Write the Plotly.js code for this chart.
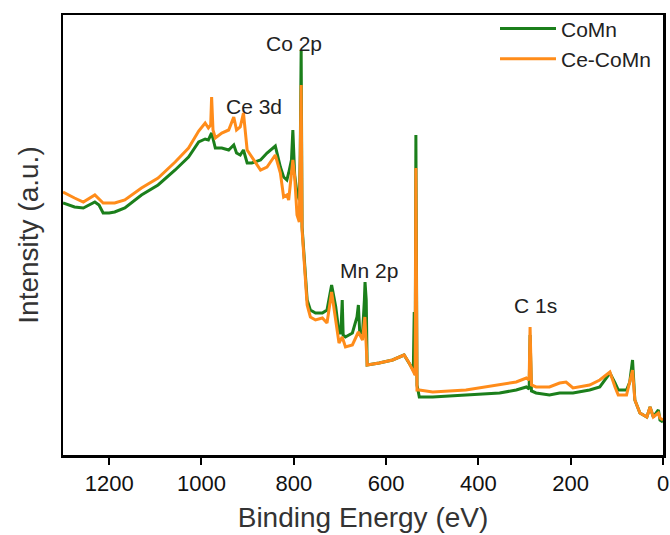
<!DOCTYPE html>
<html>
<head>
<meta charset="utf-8">
<script src="https://cdn.plot.ly/plotly-3.0.1.min.js"></script>
<style>html,body{margin:0;padding:0;background:#fff;}#chart{width:670px;height:535px;}</style>
</head>
<body>
<div id="chart"></div>
<script>
// Binding energy (eV) and intensity (a.u.)
const energyCoMn = [1300,1289,1275,1256,1231,1222,1213,1200,1188,1166,1130,1094,1057,1028,1006,992,985,978,970,956,941,930,924,916,909,901,891,872,858,840,829,822,815,811,805,802,798,793,788,786,784,782,778,775,771,764,753,738,728,718,709,702,698,695,693,688,673,663,660,657,651,647,645.6,643,641,615,586,561,550,541,539,537,535.4,533,528,499,427,354,318,296,290,288,285,275,246,224,195,159,137,115,104,97,79,72,66,61,50,35,28,21,10,6.5,0];
const intensityCoMn = [252,250,248,247,253,250,242,242,243,247,260,270,285,298,313,316,315,322,307,307,305,310,302,300,305,292,292,295,302,309,288,278,275,282,295,325,280,262,255,300,405,228,202,182,155,145,142,142,145,170,148,122,122,155,120,118,122,138,150,122,122,155,173,155,90,92,95,100,92,85,143,80,320,70,58,58,60,62,65,68,66,120,64,62,60,62,62,65,68,82,72,65,65,73,95,55,42,38,48,38,45,35,33];

const energyCeCoMn = [1300,1289,1275,1256,1231,1213,1188,1166,1130,1094,1057,1028,1006,992,985,980,978,975,970,956,941,930,924,916,909,901,891,872,858,840,829,822,815,811,802,798,793,788,786,784,782,778,775,771,764,753,738,728,718,709,702,695,688,673,660,651,646,641,615,586,561,550,541,537,535.4,533,528,499,427,354,318,296,290,288,285,275,246,224,210,195,159,137,115,104,97,79,72,66,61,50,35,28,21,10,6.5,0];
const intensityCeCoMn = [263,260,257,253,260,252,252,255,267,277,293,307,324,332,327,330,358,325,317,322,325,338,325,328,342,305,298,285,288,300,282,258,260,255,295,278,240,233,300,370,225,200,180,150,138,135,137,132,163,135,112,118,108,110,123,115,138,90,92,95,100,92,83,80,287,65,65,63,65,70,73,77,75,128,70,68,68,72,73,67,70,75,83,68,60,60,73,85,55,42,38,48,38,42,37,35];

const seriesNames = ['CoMn', 'Ce-CoMn'];
const tickValues = [1200, 1000, 800, 600, 400, 200, 0];
const peakLabels = ['Co 2p', 'Ce 3d', 'Mn 2p', 'C 1s'];
const peakLabelX = [800, 887, 637, 276];
const peakLabelY = [412, 349, 185, 150];

const FONT = 'Arial, "Liberation Sans", sans-serif';

const traces = [
  {x: energyCoMn, y: intensityCoMn, name: seriesNames[0], type: 'scatter', mode: 'lines',
   line: {color: '#1b7f1b', width: 3}},
  {x: energyCeCoMn, y: intensityCeCoMn, name: seriesNames[1], type: 'scatter', mode: 'lines',
   line: {color: '#ff8c1a', width: 3}}
];

const layout = {
  width: 670, height: 535,
  margin: {l: 63, r: 7, t: 15, b: 80},
  paper_bgcolor: '#fff', plot_bgcolor: '#fff',
  showlegend: true,
  legend: {x: 0.72, y: 1.015, xanchor: 'left', yanchor: 'top', bgcolor: 'rgba(0,0,0,0)',
           font: {family: FONT, size: 21, color: '#222'}, itemwidth: 56, tracegroupgap: 0},
  xaxis: {
    range: [1300, 0], tickvals: tickValues, ticktext: tickValues.map(String),
    ticks: 'outside', ticklen: 7, tickwidth: 2, tickcolor: '#000',
    showline: true, mirror: true, linecolor: '#000', linewidth: 2.5,
    showgrid: false, zeroline: false,
    tickfont: {family: FONT, size: 22, color: '#111'},
    title: {text: 'Binding Energy (eV)', font: {family: FONT, size: 28, color: '#333'}, standoff: 13}
  },
  yaxis: {
    range: [0, 440], showticklabels: false, ticks: '',
    showline: true, mirror: true, linecolor: '#000', linewidth: 2.5,
    showgrid: false, zeroline: false,
    title: {text: 'Intensity (a.u.)', font: {family: FONT, size: 28, color: '#333'}, standoff: 14}
  },
  annotations: peakLabels.map((t, i) => ({
    x: peakLabelX[i], y: peakLabelY[i], xref: 'x', yref: 'y', text: t, showarrow: false,
    font: {family: FONT, size: 21, color: '#222'}
  }))
};

Plotly.newPlot('chart', traces, layout, {staticPlot: true, displayModeBar: false});
</script>
</body>
</html>
